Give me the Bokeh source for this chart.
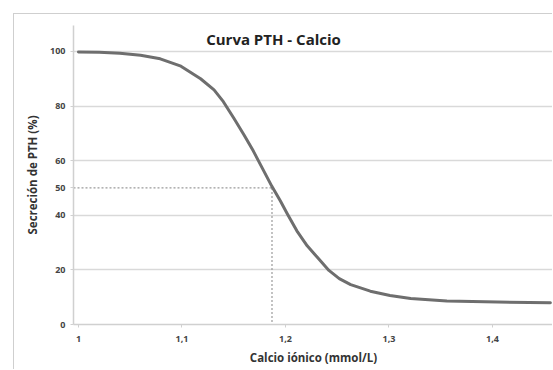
from bokeh.plotting import figure
from bokeh.models import Range1d, FixedTicker, Label
from bokeh.embed import file_html
from bokeh.resources import INLINE

# data
calcio = [1.0, 1.02, 1.04, 1.06, 1.079, 1.099, 1.118, 1.131, 1.140, 1.150,
          1.160, 1.169, 1.178, 1.187, 1.195, 1.202, 1.211, 1.221, 1.231,
          1.242, 1.252, 1.263, 1.282, 1.301, 1.321, 1.356, 1.405, 1.456]
pth = [99.8, 99.7, 99.3, 98.6, 97.3, 94.6, 90.0, 85.9, 81.6, 75.6,
       69.4, 63.5, 57.0, 50.5, 45.3, 40.4, 34.3, 28.8, 24.5,
       19.8, 16.8, 14.6, 12.2, 10.6, 9.5, 8.6, 8.2, 8.0]
x_ticks = [1.0, 1.1, 1.2, 1.3, 1.4]
x_tick_labels = ["1", "1,1", "1,2", "1,3", "1,4"]
y_ticks = [0, 20, 40, 50, 60, 80, 100]
y_grid = [20, 40, 60, 80, 100]
ca50 = 1.187
pth50 = 50

OFF = 14  # outer chart border offset on the page
W, H = 553 - OFF, 370 - OFF
FL, FT, FB = 73 - OFF, 25 - OFF, 46
p = figure(width=W, height=H, output_backend="svg", toolbar_location=None,
           x_range=Range1d(0.9952, 1.459), y_range=Range1d(0, 109.5),
           min_border_left=FL, min_border_right=0, min_border_top=FT,
           min_border_bottom=FB)
p.styles = {"margin-left": "13px", "margin-top": "13px",
            "border-left": "1px solid #cfcfcf", "border-top": "1px solid #cfcfcf"}
p.outline_line_color = None
p.background_fill_color = "white"
p.border_fill_color = "white"

font = "Open Sans"
# axes
p.xaxis.ticker = FixedTicker(ticks=x_ticks)
p.xaxis.major_label_overrides = {t: l for t, l in zip(x_ticks, x_tick_labels)}
p.yaxis.ticker = FixedTicker(ticks=y_ticks)
for ax in (p.xaxis, p.yaxis):
    ax.axis_line_color = "#d0d0d0"
    ax.axis_line_width = 1.5
    ax.major_tick_line_color = "#d0d0d0"
    ax.major_tick_out = 3
    ax.major_tick_in = 0
    ax.minor_tick_line_color = None
    ax.major_label_text_font = font
    ax.major_label_text_font_size = "9px"
    ax.major_label_text_font_style = "bold"
    ax.major_label_text_color = "#444444"
    ax.axis_label_text_font = font
    ax.axis_label_text_font_size = "11.5px"
    ax.axis_label_text_font_style = "bold"
    ax.axis_label_text_color = "#333333"
p.xaxis.major_label_standoff = 8
p.yaxis.major_label_standoff = 5
p.xaxis.axis_label = "Calcio iónico (mmol/L)"
p.yaxis.axis_label = "Secreción de PTH (%)"
p.xaxis.axis_label_standoff = 5
p.yaxis.axis_label_standoff = 7

p.xgrid.grid_line_color = None
p.ygrid.ticker = FixedTicker(ticks=y_grid)
p.ygrid.grid_line_color = "#d9d9d9"
p.ygrid.grid_line_width = 1.5

# dashed reference lines
p.line([0.9952, ca50], [pth50, pth50], line_color="#9a9a9a", line_dash="2 2", line_width=1.2)
p.line([ca50, ca50], [pth50, 0], line_color="#9a9a9a", line_dash="2 2", line_width=1.2)

# curve
p.line(calcio, pth, line_color="#6e6e6e", line_width=3, line_join="round", line_cap="round")

# asterisk below axis
p.add_layout(Label(x=ca50, y=0, text="*", text_align="center", text_baseline="top",
                   y_offset=-1, text_font_size="9px", text_color="#888888",
                   text_font_style="bold"))

# title (screen units are measured from the frame's bottom-left corner)
frame_h = H - FT - FB
p.add_layout(Label(x=273 - 73, y=frame_h - 13, x_units="screen", y_units="screen",
                   text="Curva PTH - Calcio", text_align="center",
                   text_baseline="middle", text_font=font, text_font_style="bold",
                   text_font_size="15px", text_color="#222222"))

open("out.html", "w").write(file_html(p, INLINE))
